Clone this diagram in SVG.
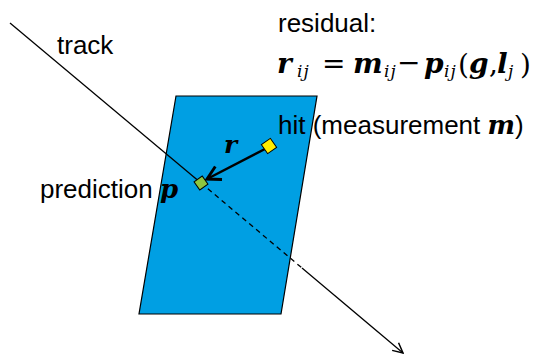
<svg xmlns="http://www.w3.org/2000/svg" width="535" height="354" viewBox="0 0 535 354">
<style>
.t{font-family:"Liberation Sans",Arial,sans-serif;font-size:26px;fill:#000}
.m{font-family:"DejaVu Serif","Liberation Serif",serif;font-weight:bold;font-style:italic;fill:#000}
.f{font-family:"DejaVu Serif","Liberation Serif",serif;font-weight:bold;font-style:italic;font-size:28px;fill:#000}
.s{font-family:"DejaVu Serif","Liberation Serif",serif;font-style:italic;font-size:17px;fill:#000;letter-spacing:1px}
.o{font-family:"DejaVu Serif","Liberation Serif",serif;font-size:28px;fill:#000}
</style>
<defs>
<marker id="open" viewBox="0 0 12 12" refX="11" refY="6" markerWidth="12" markerHeight="12" markerUnits="userSpaceOnUse" orient="auto">
<path d="M1,1 L11,6 L1,11" fill="none" stroke="#000" stroke-width="1.5"/>
</marker>
<marker id="open2" viewBox="0 0 12 12" refX="10" refY="6" markerWidth="7" markerHeight="7" orient="auto">
<path d="M1,1 L10,6 L1,11" fill="none" stroke="#000" stroke-width="2"/>
</marker>
</defs>
<g id="plane">
<polygon points="176,96 317,96 281,314 139,314" fill="#009fe3" stroke="#000" stroke-width="1.2"/>
</g>
<g id="connectors">
<line x1="10" y1="23" x2="201" y2="183" stroke="#000" stroke-width="1.3"/>
<line x1="201" y1="183" x2="302" y2="268" stroke="#000" stroke-width="1.3" stroke-dasharray="5,4"/>
<line x1="302" y1="268" x2="403" y2="353" stroke="#000" stroke-width="1.3" marker-end="url(#open)"/>
<line x1="265" y1="149" x2="207" y2="179" stroke="#000" stroke-width="2.5" marker-end="url(#open2)"/>
</g>
<g id="prediction-point">
<rect x="-5" y="-5" width="10" height="10" fill="#8cc63f" stroke="#000" stroke-width="1" transform="translate(201,183) rotate(-35)"/>
</g>
<g id="hit-point">
<rect x="-5.5" y="-5.5" width="11" height="11" fill="#ffed00" stroke="#000" stroke-width="1" transform="translate(269,146) rotate(-35)"/>
</g>
<g id="labels">
<text class="t" x="57" y="54">track</text>
<text class="t" x="278" y="32">residual:</text>
<text class="t" x="278" y="134">hit (measurement <tspan class="m">m</tspan>)</text>
<text class="t" x="40" y="198">prediction <tspan class="m">p</tspan></text>
<text class="m" x="224" y="153" font-size="25">r</text>
</g>
<g id="formula">
<text class="f" x="277" y="73">r</text>
<text class="s" x="297" y="77">ij</text>
<text class="o" x="322" y="73">=</text>
<text class="f" x="353" y="73">m</text>
<text class="s" x="384" y="77">ij</text>
<text class="o" x="397" y="72" font-size="20">−</text>
<text class="f" x="424" y="73">p</text>
<text class="s" x="444" y="77">ij</text>
<text class="o" x="458" y="74">(</text>
<text class="f" x="469" y="73">g</text>
<text class="o" x="489" y="73">,</text>
<text class="f" x="497" y="73">l</text>
<text class="s" x="508" y="77">j</text>
<text class="o" x="520" y="74">)</text>
</g>
</svg>
